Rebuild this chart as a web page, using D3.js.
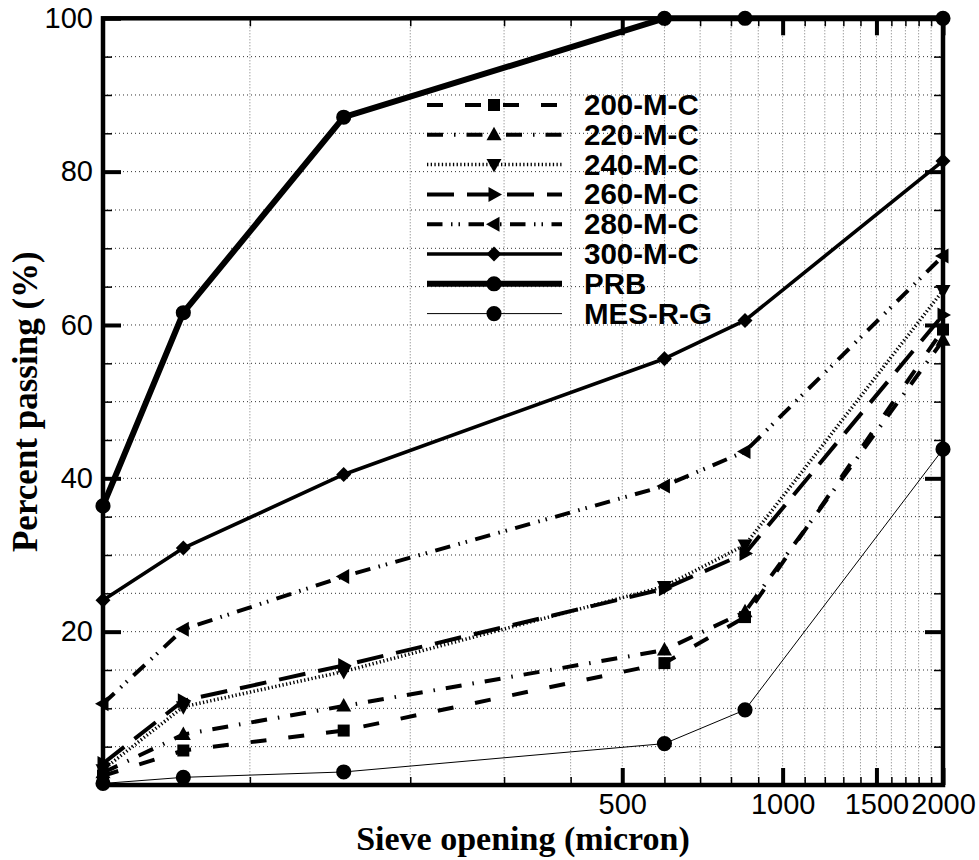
<!DOCTYPE html>
<html>
<head>
<meta charset="utf-8">
<script src="https://cdn.jsdelivr.net/npm/d3@7"></script>
<style>
  html, body { margin: 0; padding: 0; background: #fff; }
  svg { display: block; }
</style>
</head>
<body>
<svg id="chart" width="979" height="860"></svg>
<script>
// ---- data ----
const sieveSizes = [53, 75, 150, 600, 850, 2000];
const seriesNames = ["200-M-C", "220-M-C", "240-M-C", "260-M-C", "280-M-C", "300-M-C", "PRB", "MES-R-G"];
const mc200 = [1.2, 4.5, 7.1, 15.9, 21.9, 59.4];
const mc220 = [1.6, 6.6, 10.3, 17.6, 22.6, 58.0];
const mc240 = [2.0, 10.2, 14.8, 25.9, 31.3, 64.5];
const mc260 = [2.8, 11.0, 15.6, 25.6, 30.2, 61.3];
const mc280 = [10.6, 20.3, 27.2, 39.0, 43.5, 69.0];
const mc300 = [24.1, 30.9, 40.5, 55.6, 60.6, 81.4];
const prb = [36.4, 61.6, 87.1, 100, 100, 100];
const mesRG = [0.2, 1.0, 1.7, 5.4, 9.8, 43.8];
const xMajorTicks = [500, 1000, 1500, 2000];
const xMinorTicks = [100, 200, 300, 400, 600, 700, 800, 900, 1100, 1200, 1300, 1400, 1600, 1700, 1800, 1900];
const yMajorTicks = [20, 40, 60, 80, 100];
const yMinorTicks = [5, 10, 15, 25, 30, 35, 45, 50, 55, 65, 70, 75, 85, 90, 95];

const seriesValues = [mc200, mc220, mc240, mc260, mc280, mc300, prb, mesRG];

// ---- styles ----
const styles = [
  { dash: "16,22", width: 4, marker: "square" },
  { dash: "16,11,1.5,11", width: 4, marker: "triUp" },
  { dash: "1.3,2.4", width: 3.5, marker: "triDown" },
  { dash: "27,13", width: 4, marker: "triRight" },
  { dash: "15.5,8.5,1.5,6,1.5,8.5", width: 4, marker: "triLeft" },
  { dash: null, width: 3.6, marker: "diamond" },
  { dash: null, width: 6, marker: "circle" },
  { dash: null, width: 1, marker: "circle" }
];

const L = 103, R = 943, T = 18.3, B = 785;
const svg = d3.select("#chart");
const x = d3.scaleLog().domain([53, 2000]).range([L, R]);
const y = d3.scaleLinear().domain([0, 100]).range([B, T]);

// ---- grid ----
const grid = svg.append("g");
grid.selectAll("line.h").data(yMinorTicks.concat(yMajorTicks.filter(d => d < 100)))
  .join("line").attr("x1", L).attr("x2", R)
  .attr("y1", d => y(d)).attr("y2", d => y(d))
  .attr("stroke", "#333").attr("stroke-width", 1).attr("stroke-dasharray", "1,3");
grid.selectAll("line.v").data(xMinorTicks.concat(xMajorTicks.filter(d => d < 2000)))
  .join("line").attr("y1", T).attr("y2", B)
  .attr("x1", d => x(d)).attr("x2", d => x(d))
  .attr("stroke", "#777").attr("stroke-width", 1).attr("stroke-dasharray", "1,2");

// ---- axes ----
function styleAxis(g, w) {
  g.select(".domain").remove();
  g.selectAll(".tick line").attr("stroke", "#000").attr("stroke-width", w);
}
const tickFont = "'Liberation Sans', Arial, sans-serif";

svg.append("g").attr("transform", `translate(0,${B})`)
  .call(d3.axisBottom(x).tickValues(xMinorTicks).tickSize(-8).tickFormat(""))
  .call(g => styleAxis(g, 1.5));
svg.append("g").attr("transform", `translate(0,${T})`)
  .call(d3.axisTop(x).tickValues(xMinorTicks).tickSize(-8).tickFormat(""))
  .call(g => styleAxis(g, 1.5));
svg.append("g").attr("transform", `translate(0,${B})`)
  .call(d3.axisBottom(x).tickValues(xMajorTicks).tickSize(-17).tickPadding(8).tickFormat(d3.format("d")))
  .call(g => styleAxis(g, 4))
  .call(g => g.selectAll("text").attr("font-family", tickFont).attr("font-size", 29).attr("fill", "#000"));
svg.append("g").attr("transform", `translate(0,${T})`)
  .call(d3.axisTop(x).tickValues(xMajorTicks).tickSize(-17).tickFormat(""))
  .call(g => styleAxis(g, 4));

svg.append("g").attr("transform", `translate(${L},0)`)
  .call(d3.axisLeft(y).tickValues(yMinorTicks).tickSize(-9).tickFormat(""))
  .call(g => styleAxis(g, 1.5));
svg.append("g").attr("transform", `translate(${R},0)`)
  .call(d3.axisRight(y).tickValues(yMinorTicks).tickSize(-9).tickFormat(""))
  .call(g => styleAxis(g, 1.5));
svg.append("g").attr("transform", `translate(${L},0)`)
  .call(d3.axisLeft(y).tickValues(yMajorTicks).tickSize(-18).tickPadding(10).tickFormat(d3.format("d")))
  .call(g => styleAxis(g, 4))
  .call(g => g.selectAll("text").attr("font-family", tickFont).attr("font-size", 29).attr("fill", "#000"));
svg.append("g").attr("transform", `translate(${R},0)`)
  .call(d3.axisRight(y).tickValues(yMajorTicks).tickSize(-18).tickFormat(""))
  .call(g => styleAxis(g, 4));

// frame
svg.append("rect").attr("x", L).attr("y", T).attr("width", R - L).attr("height", B - T)
  .attr("fill", "none").attr("stroke", "#000").attr("stroke-width", 4.5);

// ---- markers ----
function markerPath(type) {
  switch (type) {
    case "square": return "M-6,-6L6,-6L6,6L-6,6Z";
    case "triUp": return "M0,-8L7.5,5.5L-7.5,5.5Z";
    case "triDown": return "M0,8L7.5,-5.5L-7.5,-5.5Z";
    case "triRight": return "M8,0L-5.5,7.5L-5.5,-7.5Z";
    case "triLeft": return "M-8,0L5.5,7.5L5.5,-7.5Z";
    case "diamond": return "M0,-7.5L7.5,0L0,7.5L-7.5,0Z";
    case "circle": return d3.symbol(d3.symbolCircle, 180)();
  }
}

// ---- series ----
const line = d3.line().x(d => x(d[0])).y(d => y(d[1]));
seriesValues.forEach((vals, i) => {
  const st = styles[i];
  const pts = sieveSizes.map((s, j) => [s, vals[j]]);
  const g = svg.append("g");
  g.append("path").datum(pts).attr("d", line)
    .attr("fill", "none").attr("stroke", "#000").attr("stroke-width", st.width)
    .attr("stroke-dasharray", st.dash).attr("stroke-linejoin", "round");
  g.selectAll("path.m").data(pts).join("path")
    .attr("d", markerPath(st.marker))
    .attr("transform", d => `translate(${x(d[0])},${y(d[1])})`)
    .attr("fill", "#000");
});

// ---- legend ----
const leg = svg.append("g");
seriesNames.forEach((name, i) => {
  const st = styles[i];
  const ry = 105 + i * 29.8;
  leg.append("line").attr("x1", 427).attr("x2", 562).attr("y1", ry).attr("y2", ry)
    .attr("stroke", "#000").attr("stroke-width", st.width).attr("stroke-dasharray", st.dash);
  leg.append("path").attr("d", markerPath(st.marker)).attr("transform", `translate(494,${ry})`).attr("fill", "#000");
  leg.append("text").attr("x", 584).attr("y", ry + 10).text(name)
    .attr("font-family", tickFont).attr("font-weight", "bold").attr("font-size", 29.5).attr("fill", "#000");
});

// ---- titles ----
const titleFont = "'Liberation Serif', 'Times New Roman', serif";
svg.append("text").attr("x", (L + R) / 2).attr("y", 850).attr("text-anchor", "middle")
  .attr("font-family", titleFont).attr("font-weight", "bold").attr("font-size", 34)
  .text("Sieve opening (micron)");
svg.append("text").attr("transform", `translate(37,${(T + B) / 2}) rotate(-90)`)
  .attr("text-anchor", "middle")
  .attr("font-family", titleFont).attr("font-weight", "bold").attr("font-size", 35)
  .text("Percent passing (%)");
</script>
</body>
</html>
